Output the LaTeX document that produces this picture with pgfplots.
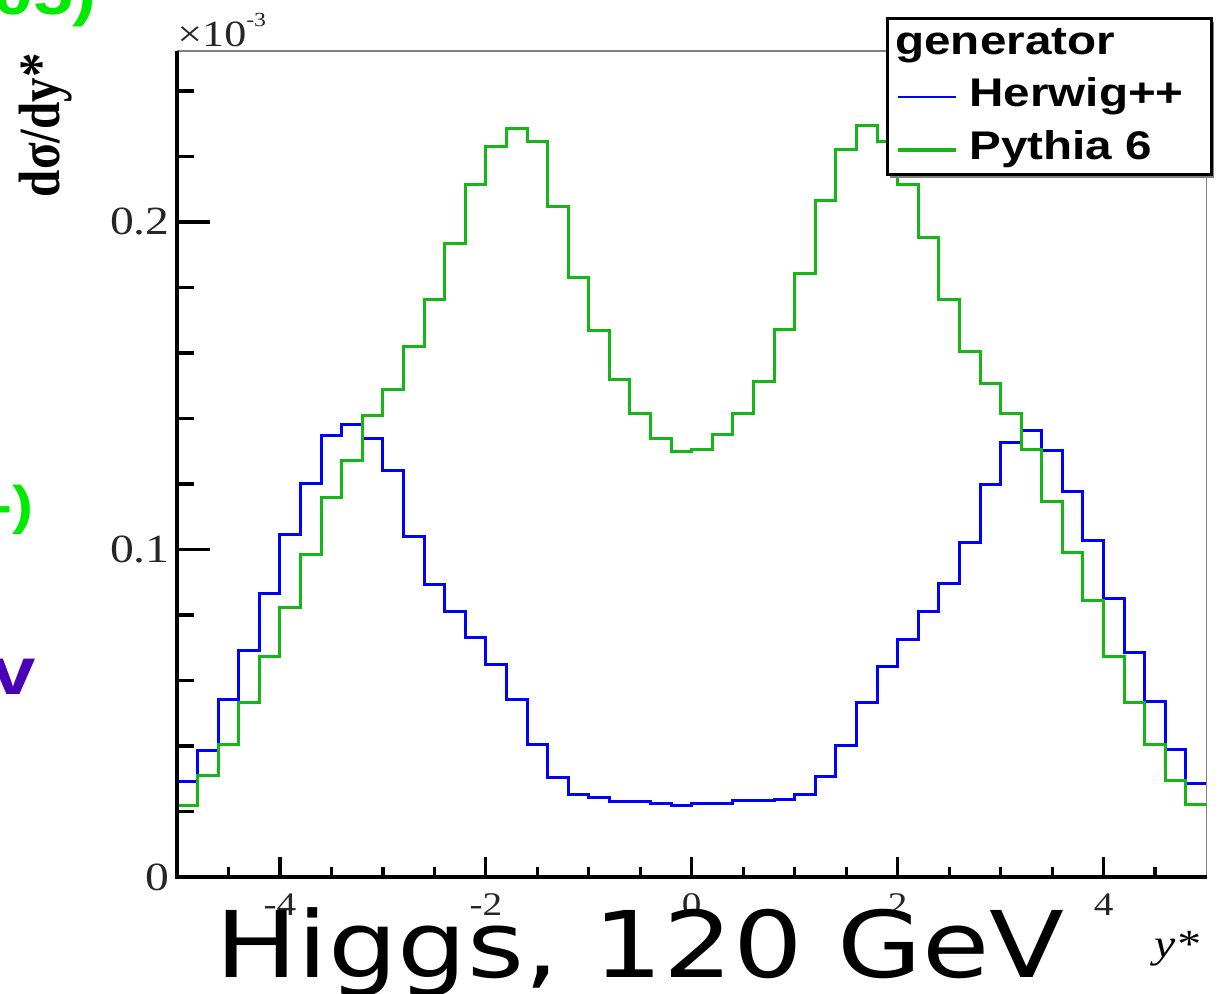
\documentclass[border=0pt]{standalone}
\usepackage{fontspec}
\setmainfont{Liberation Serif}
\newfontfamily\lsans{Liberation Sans}
\newfontfamily\dejavu{DejaVu Sans}
\usepackage{graphicx}
\usepackage{pgfplots}
\pgfplotsset{compat=1.18}
\usepackage{pgfplotstable}
\definecolor{hblue}{RGB}{0,0,255}
\definecolor{pgreen}{RGB}{23,182,23}
\definecolor{brightgreen}{RGB}{0,235,0}
\definecolor{purp}{RGB}{74,0,184}
\newcommand{\sx}[1]{\scalebox{1.19}[1]{#1}}

\pgfplotstableread{
x h p
-5.0 0.0291 0.0218
-4.8 0.0386 0.0309
-4.6 0.0543 0.0406
-4.4 0.0693 0.0532
-4.2 0.0866 0.0673
-4.0 0.1047 0.0823
-3.8 0.1200 0.0986
-3.6 0.1347 0.1159
-3.4 0.1382 0.1273
-3.2 0.1340 0.1410
-3.0 0.1240 0.1489
-2.8 0.1041 0.1619
-2.6 0.0892 0.1764
-2.4 0.0812 0.1933
-2.2 0.0732 0.2113
-2.0 0.0650 0.2230
-1.8 0.0543 0.2286
-1.6 0.0406 0.2245
-1.4 0.0304 0.2047
-1.2 0.0253 0.1831
-1.0 0.0243 0.1670
-0.8 0.0230 0.1520
-0.6 0.0230 0.1416
-0.4 0.0225 0.1340
-0.2 0.0218 0.1299
0.0 0.0225 0.1304
0.2 0.0225 0.1352
0.4 0.0233 0.1416
0.6 0.0233 0.1512
0.8 0.0237 0.1673
1.0 0.0253 0.1843
1.2 0.0306 0.2065
1.4 0.0403 0.2222
1.6 0.0532 0.2296
1.8 0.0644 0.2245
2.0 0.0726 0.2113
2.2 0.0810 0.1952
2.4 0.0897 0.1764
2.6 0.1021 0.1604
2.8 0.1197 0.1507
3.0 0.1326 0.1416
3.2 0.1363 0.1304
3.4 0.1302 0.1146
3.6 0.1177 0.0991
3.8 0.1027 0.0843
4.0 0.0851 0.0673
4.2 0.0686 0.0532
4.4 0.0535 0.0406
4.6 0.0390 0.0296
4.8 0.0284 0.0220
5.0 0.0284 0.0220
}\histdata

\begin{document}
\begin{tikzpicture}
\useasboundingbox (0,0) rectangle (609.5pt,497pt);
% main axis: data and x ticks
\begin{axis}[
  at={(88.5pt,58.5pt)}, anchor=south west,
  scale only axis, width=514.75pt, height=413pt,
  xmin=-5, xmax=5, ymin=0, ymax=0.2522,
  axis line style={draw=none},
  tick align=inside, xtick pos=left, ytick=\empty,
  scaled ticks=false,
  xtick={-4,-2,0,2,4},
  xticklabels={\sx{-4},\sx{-2},\sx{0},\sx{2},\sx{4}},
  minor xtick={-4.5,-3.5,-3,-2.5,-1.5,-1,-0.5,0.5,1,1.5,2.5,3,3.5,4.5},
  major tick length=10pt, minor tick length=4.75pt,
  tick style={black, line width=1.6pt},
  xticklabel style={font=\fontsize{16.5}{18}\selectfont, inner sep=0pt, yshift=-8pt, text=black!85},
]
\addplot[const plot, hblue, line width=1.5pt] table[x=x, y=h] {\histdata};
\addplot[const plot, pgreen, line width=1.5pt] table[x=x, y=p] {\histdata};
\end{axis}
% second axis: y ticks
\begin{axis}[
  at={(88.5pt,58.5pt)}, anchor=south west,
  scale only axis, width=514.75pt, height=413pt,
  xmin=-5, xmax=5, ymin=0, ymax=0.2522,
  axis line style={draw=none},
  tick align=inside, ytick pos=left, xtick=\empty,
  scaled ticks=false,
  ytick={0,0.1,0.2},
  yticklabels={\sx{0},\sx{0.1},\sx{0.2}},
  minor ytick={0.02,0.04,0.06,0.08,0.12,0.14,0.16,0.18,0.22,0.24},
  major tick length=16.5pt, minor tick length=8.5pt,
  tick style={black, line width=1.6pt},
  yticklabel style={font=\fontsize{20}{22}\selectfont, inner sep=0pt, xshift=-3.5pt, text=black!85},
]
\end{axis}
% frame
\draw[black!50, line width=0.8pt] (88.5pt,471.5pt) -- (603.25pt,471.5pt) -- (603.25pt,58.5pt);
\draw[black, line width=2.2pt] (88.5pt,471.5pt) -- (88.5pt,58.5pt) -- (603.25pt,58.5pt);
% exponent label
\node[anchor=base west, inner sep=0pt, text=black!85] at (88.5pt,473.5pt)
  {\sx{\fontsize{18.5}{20}\selectfont ×10\raisebox{0.55em}{\fontsize{10}{12}\selectfont -3}}};
% y title
\node[rotate=90, anchor=base east, inner sep=0pt] at (29.5pt,470.5pt)
  {\scalebox{1}[1.19]{\fontsize{24.5}{26}\selectfont\bfseries dσ/dy*}};
% x title
\node[anchor=base east, inner sep=0pt] at (600pt,18pt)
  {\sx{\fontsize{20}{22}\selectfont\itshape y*}};
% big overlay text
\node[anchor=base west, inner sep=0pt] at (107.5pt,8pt)
  {\sx{\dejavu\fontsize{46}{50}\selectfont Higgs, 120 GeV}};
% fragments of other text at the left edge
\node[anchor=base east, inner sep=0pt, text=brightgreen] at (48.5pt,489.5pt)
  {\sx{\lsans\bfseries\fontsize{30}{32}\selectfont 05)}};
\node[anchor=base east, inner sep=0pt, text=brightgreen] at (17pt,235pt)
  {\sx{\lsans\bfseries\fontsize{26.5}{28}\selectfont -)}};
\node[anchor=base east, inner sep=0pt, text=purp] at (18pt,149.5pt)
  {\sx{\lsans\bfseries\fontsize{33.5}{35}\selectfont v}};
% legend
\fill[black!50] (445pt,408pt) rectangle (607pt,486pt);
\draw[fill=white, line width=1.5pt] (443.5pt,409.5pt) rectangle (605.5pt,487.5pt);
\node[anchor=base west, inner sep=0pt] at (447.5pt,469.5pt)
  {\sx{\lsans\bfseries\fontsize{20}{22}\selectfont generator}};
\draw[hblue, line width=1pt] (449pt,448.5pt) -- (478pt,448.5pt);
\node[anchor=base west, inner sep=0pt] at (484.5pt,443.5pt)
  {\sx{\lsans\bfseries\fontsize{20}{22}\selectfont Herwig++}};
\draw[pgreen, line width=2pt] (449pt,422pt) -- (478pt,422pt);
\node[anchor=base west, inner sep=0pt] at (484.5pt,417pt)
  {\sx{\lsans\bfseries\fontsize{20}{22}\selectfont Pythia 6}};
\end{tikzpicture}
\end{document}
